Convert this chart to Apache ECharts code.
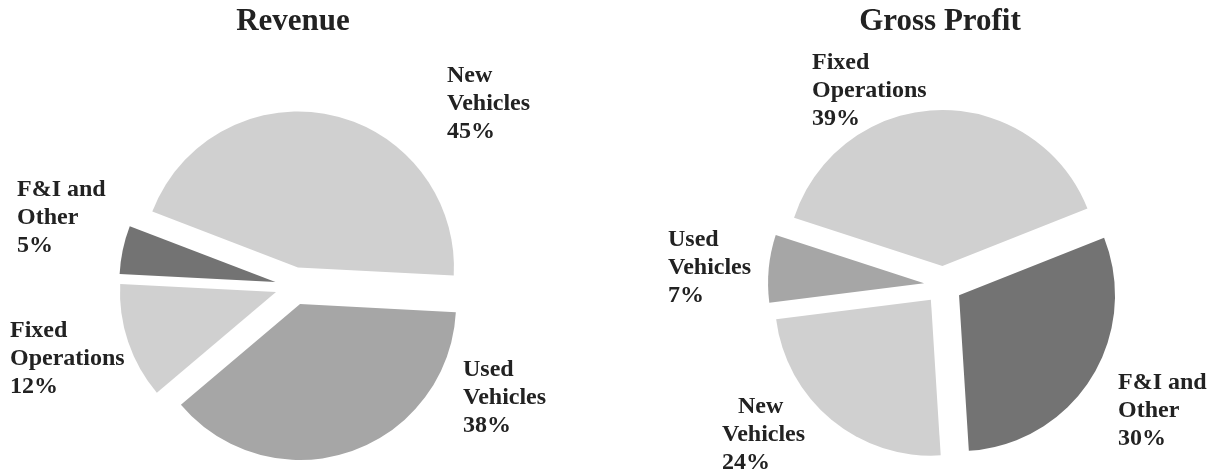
<!DOCTYPE html>
<html>
<head>
<meta charset="utf-8">
<script src="https://cdn.jsdelivr.net/npm/echarts@6/dist/echarts.min.js"></script>
<style>
	html,body{margin:0;padding:0;background:#fff;}
	#chart{width:1212px;height:474px;}
</style>
</head>
<body>
<div id="chart"></div>
<script>
// 数据
var revenueNames = ['New Vehicles', 'Used Vehicles', 'Fixed Operations', 'F&I and Other'];
var revenueValues = [45, 38, 12, 5];
var profitNames = ['Fixed Operations', 'F&I and Other', 'New Vehicles', 'Used Vehicles'];
var profitValues = [39, 30, 24, 7];

var labelText = {
	'New Vehicles': 'New\nVehicles',
	'Used Vehicles': 'Used\nVehicles',
	'Fixed Operations': 'Fixed\nOperations',
	'F&I and Other': 'F&I and\nOther'
};
var colors = {
	'New Vehicles': '#d0d0d0',
	'Used Vehicles': '#a6a6a6',
	'Fixed Operations': '#d0d0d0',
	'F&I and Other': '#737373'
};

// 标签位置 (left, top)
var revenueLabelPos = [[447, 62], [463, 356], [10, 317], [17, 176]];
var profitLabelPos = [[812, 49], [1118, 369], [722, 393], [668, 226]];

var font = 'Liberation Serif, Times New Roman, serif';

function buildData(names, values){
	var arr = [];
	for(var i in names){
		arr.push({
			name: names[i],
			value: values[i],
			selected: true,
			itemStyle: {color: colors[names[i]]}
		});
	}
	return arr;
}

function pieSeries(names, values, center, startAngle){
	return {
		type: 'pie',
		center: center,
		radius: 156,
		startAngle: startAngle,
		clockwise: true,
		selectedMode: 'multiple',
		selectedOffset: 19,
		animation: false,
		emphasis: {disabled: true},
		itemStyle: {borderWidth: 0},
		labelLine: {show: false},
		label: {show: false},
		data: buildData(names, values)
	};
}

// 数据标签
function buildLabels(names, values, pos, indentName){
	var res = [];
	for(var i in names){
		var lines = labelText[names[i]].split('\n');
		var first = lines[0];
		if(indentName && names[i] == indentName){
			first = '{ind|' + first + '}';
		}
		res.push({
			type: 'text',
			x: pos[i][0],
			y: pos[i][1],
			silent: true,
			style: {
				text: first + '\n' + lines[1] + '\n' + values[i] + '%',
				fontFamily: font,
				fontWeight: 'bold',
				fontSize: 24,
				lineHeight: 28,
				fill: '#222',
				align: 'left',
				verticalAlign: 'top',
				rich: {
					ind: {
						fontFamily: font,
						fontWeight: 'bold',
						fontSize: 24,
						lineHeight: 28,
						fill: '#222',
						padding: [0, 0, 0, 16]
					}
				}
			}
		});
	}
	return res;
}

var myChart = echarts.init(document.getElementById('chart'));
var option = {
	backgroundColor: '#fff',
	title: [
		{
			text: 'Revenue',
			left: 293,
			top: 6,
			padding: 0,
			textAlign: 'center',
			textStyle: {fontFamily: font, fontWeight: 'bold', fontSize: 31, color: '#222'}
		},
		{
			text: 'Gross Profit',
			left: 940,
			top: 6,
			padding: 0,
			textAlign: 'center',
			textStyle: {fontFamily: font, fontWeight: 'bold', fontSize: 31, color: '#222'}
		}
	],
	graphic: {
		elements: buildLabels(revenueNames, revenueValues, revenueLabelPos, null)
			.concat(buildLabels(profitNames, profitValues, profitLabelPos, 'New Vehicles'))
	},
	series: [
		pieSeries(revenueNames, revenueValues, [294, 286], 159),
		pieSeries(profitNames, profitValues, [943, 285], 162)
	]
};
myChart.setOption(option);
</script>
</body>
</html>
